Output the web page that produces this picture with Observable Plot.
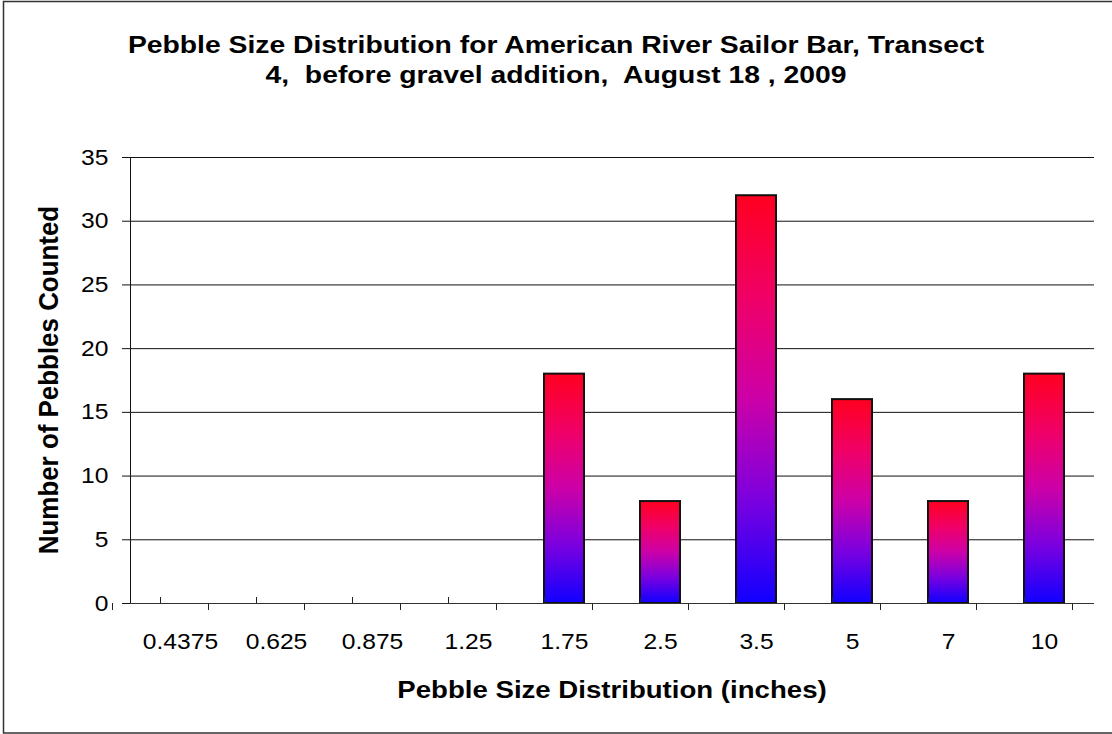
<!DOCTYPE html>
<html>
<head>
<meta charset="utf-8">
<script src="https://cdn.jsdelivr.net/npm/d3@7"></script>
<script src="https://cdn.jsdelivr.net/npm/@observablehq/plot@0.6"></script>
<style>
  html, body { margin: 0; padding: 0; background: #fff; }
  svg { display: block; }
</style>
</head>
<body>
<div id="chart"></div>
<script>
// Pebble size classes (inches) and counts per class
const sizes = ["0.4375", "0.625", "0.875", "1.25", "1.75", "2.5", "3.5", "5", "7", "10"];
const counts = [0, 0, 0, 0, 18, 8, 32, 16, 8, 18];
const yTicks = [0, 5, 10, 15, 20, 25, 30, 35];

const titleLines = [
  "Pebble Size Distribution for American River Sailor Bar, Transect",
  "4,  before gravel addition,  August 18 , 2009"
];
const xTitle = "Pebble Size Distribution (inches)";
const yTitle = "Number of Pebbles Counted";

const data = sizes.map((s, i) => ({size: s, count: counts[i]}));

const FONT = "'Liberation Sans', Arial, Helvetica, sans-serif";
const WIDE = 1.15; // horizontal widening of the lettering

// Category ticks: short inward ticks at class centres, outward ticks at class boundaries
function categoryTicks(index, scales) {
  const x = scales.x;
  const bw = typeof x.bandwidth === "number" ? x.bandwidth : (x.scale && x.scale.bandwidth ? x.scale.bandwidth() : 0);
  const step = x(sizes[1]) - x(sizes[0]);
  const y0 = scales.y(0);
  const g = d3.create("svg:g").attr("stroke", "#222").attr("stroke-width", 1);
  for (const s of sizes) {
    const c = Math.round(x(s) + bw / 2) + 0.5;
    g.append("line").attr("x1", c).attr("x2", c).attr("y1", y0).attr("y2", y0 - 6);
  }
  const start = x(sizes[0]) + bw / 2 - step / 2;
  for (let i = 0; i <= sizes.length; i++) {
    const b = Math.round(start + i * step) + 0.5;
    g.append("line").attr("x1", b).attr("x2", b).attr("y1", y0).attr("y2", y0 + 7);
  }
  return g.node();
}

// Chart border, title block and axis titles
function decorations(index, scales, values, dims) {
  const {width, height, marginLeft, marginRight, marginTop, marginBottom} = dims;
  const g = d3.create("svg:g").attr("font-family", FONT).attr("fill", "#000");
  g.append("rect")
    .attr("x", 3.5).attr("y", 1.5)
    .attr("width", width + 10).attr("height", height - 2.5)
    .attr("fill", "none").attr("stroke", "#333").attr("stroke-width", 1.5);
  titleLines.forEach((line, i) => {
    g.append("text")
      .attr("transform", `translate(${width / 2},${45 + i * 30}) scale(${WIDE + 0.03},1)`)
      .attr("dy", "0.35em")
      .attr("text-anchor", "middle").attr("font-size", 24).attr("font-weight", "bold")
      .text(line);
  });
  const cx = (marginLeft + width - marginRight) / 2;
  const cy = (marginTop + height - marginBottom) / 2;
  g.append("text")
    .attr("transform", `translate(${cx},690) scale(${WIDE},1)`)
    .attr("dy", "0.35em")
    .attr("text-anchor", "middle").attr("font-size", 24).attr("font-weight", "bold")
    .text(xTitle);
  g.append("text")
    .attr("transform", `translate(48,${cy}) rotate(-90) scale(1.08,${WIDE})`)
    .attr("dy", "0.35em")
    .attr("text-anchor", "middle").attr("font-size", 24).attr("font-weight", "bold")
    .text(yTitle);
  return g.node();
}

const chart = Plot.plot({
  width: 1112,
  height: 734,
  marginLeft: 130,
  marginRight: 18,
  marginTop: 157,
  marginBottom: 131,
  style: {fontFamily: FONT, color: "#000", background: "#fff"},
  x: {type: "band", domain: sizes, paddingInner: 0.58, paddingOuter: 0.29, label: null},
  y: {domain: [0, 35], ticks: yTicks, label: null},
  marks: [
    Plot.gridY(yTicks, {stroke: "#111", strokeOpacity: 1, strokeWidth: 1}),
    Plot.barY(data, {
      filter: d => d.count > 0,
      x: "size",
      y: "count",
      fill: "url(#pebbleGradient)",
      stroke: "#111",
      strokeWidth: 2
    }),
    Plot.frame({anchor: "left", stroke: "#111"}),
    Plot.ruleY([0], {stroke: "#333", strokeWidth: 1}),
    categoryTicks,
    Plot.axisY({ticks: yTicks, tickSize: 8, tickPadding: 14, fontSize: 22, stroke: "#111", label: null}),
    Plot.axisX({tickSize: 0, tickPadding: 30, fontSize: 22, label: null}),
    decorations
  ]
});

// Widen the tick lettering in place around each label's anchor
d3.select(chart)
  .selectAll("g[aria-label='x-axis tick label'] text, g[aria-label='y-axis tick label'] text")
  .each(function () {
    const t = this.getAttribute("transform");
    if (t) this.setAttribute("transform", `${t} scale(${WIDE - 0.03},1)`);
  });

// Vertical red-to-blue gradient used by each bar
const defs = d3.select(chart).insert("defs", ":first-child");
const grad = defs.append("linearGradient")
  .attr("id", "pebbleGradient")
  .attr("x1", 0).attr("y1", 0).attr("x2", 0).attr("y2", 1);
[[0, "#ff0020"], [0.25, "#f00066"], [0.5, "#cc00a8"], [0.75, "#7a00e0"], [1, "#1000ff"]]
  .forEach(([o, c]) => grad.append("stop").attr("offset", o).attr("stop-color", c));

document.getElementById("chart").appendChild(chart);
</script>
</body>
</html>
